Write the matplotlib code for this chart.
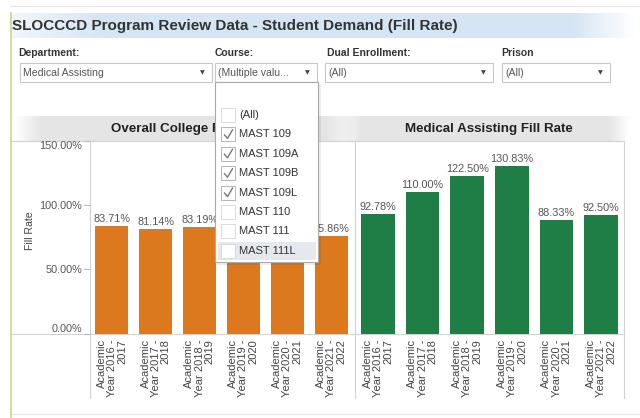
import matplotlib
matplotlib.use('Agg')
import matplotlib.pyplot as plt
import numpy as np
from matplotlib.patches import Rectangle

plt.rcParams['font.family'] = ['Liberation Sans', 'DejaVu Sans']

# ---------------- data ----------------
years = ['Academic\nYear 2016 -\n2017', 'Academic\nYear 2017 -\n2018',
         'Academic\nYear 2018 -\n2019', 'Academic\nYear 2019 -\n2020',
         'Academic\nYear 2020 -\n2021', 'Academic\nYear 2021 -\n2022']
overall_fill = [83.71, 81.14, 83.19, 78.50, 72.40, 75.86]
medical_fill = [92.78, 110.00, 122.50, 130.83, 88.33, 92.50]
y_ticks = [0, 50, 100, 150]
y_tick_labels = ['0.00%', '50.00%', '100.00%', '150.00%']
title = 'SLOCCCD Program Review Data - Student Demand (Fill Rate)'
left_title = 'Overall College Fill Rate'
right_title = 'Medical Assisting Fill Rate'
filter_labels = ['Department:', 'Course:', 'Dual Enrollment:', 'Prison']
filter_values = ['Medical Assisting', '(Multiple valu...', '(All)', '(All)']
course_items = ['(All)', 'MAST 109', 'MAST 109A', 'MAST 109B', 'MAST 109L',
                'MAST 110', 'MAST 111', 'MAST 111L']
course_checked = [False, True, True, True, True, False, False, False]

ORANGE = '#dc781d'
GREEN = '#1f7d46'

W, H = 640, 418
fig = plt.figure(figsize=(W / 100, H / 100), dpi=100)


def fx(px):
    return px / W


def fy(py):
    return 1 - py / H


# ---------------- background layer ----------------
bg = fig.add_axes([0, 0, 1, 1], zorder=0)
bg.set_axis_off()


def hgrad(ax, x0, x1, y0, y1, rgb, alphas, xs):
    n = 300
    xx = np.linspace(0, 1, n)
    a = np.interp(xx, xs, alphas)
    img = np.zeros((1, n, 4))
    img[0, :, :3] = rgb
    img[0, :, 3] = a
    ax.imshow(img, extent=[x0, x1, y1, y0], aspect='auto', interpolation='bilinear', zorder=0)


# title band
hgrad(bg, 11, 636, 13, 38, (0.84, 0.90, 0.96), [0.35, 1, 1, 0], [0, 0.15, 0.9, 1])
bg.text(12, 26, title, fontsize=11, fontweight='bold', color='#333333', va='center', ha='left')

# headers
hgrad(bg, 14, 353, 116, 141, (0.90, 0.90, 0.90), [0, 1, 1, 0.3], [0, 0.08, 0.92, 1])
hgrad(bg, 338, 630, 116, 141, (0.90, 0.90, 0.90), [0, 1, 1, 0], [0, 0.08, 0.93, 1])
bg.text(187, 129, left_title, fontsize=9.6, fontweight='bold', color='#222222', ha='center', va='center')
bg.text(489, 129, right_title, fontsize=9.6, fontweight='bold', color='#222222', ha='center', va='center')

# filters
label_x = [18, 215, 327, 501]
box_x = [(20, 212), (215, 317), (325, 493), (502, 610)]
for lab, val, lx, (b0, b1) in zip(filter_labels, filter_values, label_x, box_x):
    bg.text(lx, 53, lab, fontsize=7.5, fontweight='bold', color='#333333', va='center', ha='left')
    bg.add_patch(Rectangle((b0, 63), b1 - b0, 19, facecolor='white', edgecolor='#c8c8c8', lw=0.8, zorder=2))
    bg.text(b0 + 3, 72.5, val, fontsize=7.6, color='#555555', va='center', ha='left', zorder=3)
    bg.text(b1 - 10, 73, '\u25BC', fontsize=4.5, color='#444444', va='center', ha='center',
            family='DejaVu Sans', zorder=3)

# frame lines
lc = '#d2d2d2'
bg.plot([10, 640], [6, 6], color='#e2e2e2', lw=0.8)
bg.plot([11, 11], [13, 418], color='#cfd79b', lw=1.3)
bg.plot([12, 624], [141, 141], color=lc, lw=0.8)
bg.plot([12, 624], [333.5, 333.5], color=lc, lw=0.8)
for xv in (90, 355, 623.5):
    bg.plot([xv, xv], [141, 398], color=lc, lw=0.8)
bg.plot([12, 640], [414, 414], color='#e6e6e6', lw=0.8)

bg.text(30, 231, 'Fill Rate', rotation=90, fontsize=7.6, color='#444444', ha='center', va='center')

bg.set_xlim(0, W)
bg.set_ylim(H, 0)

# ---------------- bar charts ----------------
top_px, base_px = 141, 333.5
ax1 = fig.add_axes([fx(90), fy(base_px), fx(353) - fx(90), (base_px - top_px) / H], zorder=1)
ax2 = fig.add_axes([fx(355.5), fy(base_px), fx(623.5) - fx(355.5), (base_px - top_px) / H], zorder=1)

for ax, vals, col in ((ax1, overall_fill, ORANGE), (ax2, medical_fill, GREEN)):
    ax.set_facecolor('none')
    x = np.arange(len(vals))
    bars = ax.bar(x, vals, width=0.75, color=col, zorder=2)
    for xi, v in zip(x, vals):
        ax.annotate(f'{v:.2f}%', (xi, v), xytext=(0, 1.5), textcoords='offset points',
                    ha='center', va='bottom', fontsize=7.8, color='#555555', annotation_clip=False)
    ax.set_xlim(-0.5, len(vals) - 0.5)
    ax.set_ylim(0, 150)
    for s in ax.spines.values():
        s.set_visible(False)
    ax.set_xticks(x)
    ax.set_xticklabels(years, rotation=90, ha='center', va='top', multialignment='right',
                       fontsize=8, color='#444444', linespacing=1.02)
    ax.tick_params(axis='x', length=0, pad=4)

ax1.set_yticks(y_ticks)
ax1.set_yticklabels(y_tick_labels)
ax1.tick_params(axis='y', length=4, width=0.8, color='#bbbbbb', labelsize=7.8, labelcolor='#555555', pad=1.5)
ylabs = ax1.get_yticklabels()
ylabs[0].set_va('bottom')
ylabs[-1].set_va('top')
ax2.tick_params(axis='y', left=False, labelleft=False)

# ---------------- dropdown overlay ----------------
ov = fig.add_axes([0, 0, 1, 1], zorder=5)
ov.set_axis_off()
ov.set_xlim(0, W)
ov.set_ylim(H, 0)
ov.add_patch(Rectangle((217, 84), 104, 181, facecolor='black', alpha=0.07, lw=0))
ov.add_patch(Rectangle((215, 82), 103, 180, facecolor='white', edgecolor='#aaaaaa', lw=0.8))
ov.add_patch(Rectangle((218, 242), 98, 18, facecolor='#e5e8ed', lw=0))
for i, (item, chk) in enumerate(zip(course_items, course_checked)):
    cy = 115 + i * 19.4
    ov.add_patch(Rectangle((221, cy - 7), 14, 14, facecolor='white',
                           edgecolor='#b5b5b5' if chk else '#dadada', lw=0.7))
    if chk:
        ov.plot([224.5, 227.5, 232.5], [cy + 0.5, cy + 4, cy - 4.5], color='#777777', lw=1.0)
    ov.text(239, cy, item, fontsize=8, color='#333333', va='center', ha='left')

fig.savefig('out.png', dpi=100)
